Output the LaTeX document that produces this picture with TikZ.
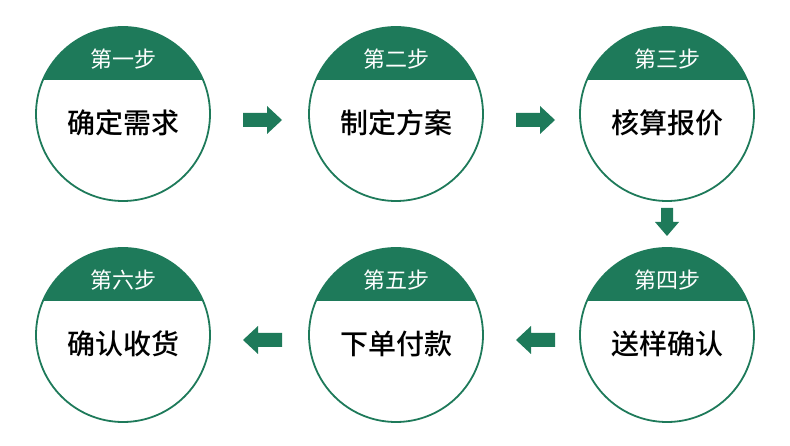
\documentclass[tikz,border=0pt]{standalone}
\usepackage{fontspec}
\newfontfamily\cjk{Noto Sans CJK SC}
\newfontfamily\cjkm{Noto Sans CJK SC Medium}
\definecolor{gr}{HTML}{1E7A5A}
\begin{document}
\begin{tikzpicture}[x=1pt,y=-1pt]
\useasboundingbox (0,0) rectangle (790,446);
\tikzset{ttl/.style={text=white,font=\cjk\fontsize{22}{22}\selectfont},
 mtxt/.style={text=black,font=\cjkm\fontsize{28}{28}\selectfont}}
\newcommand\stepc[5]{%
 \begin{scope}
 \clip (#1,#2) circle (87);
 \fill[gr] (#1-90,#2-90) rectangle (#1+90,#2-34);
 \end{scope}
 \draw[gr,line width=1.8pt] (#1,#2) circle (87);
 \node[ttl] (t#5) at (#1,#2-55) {#3};
 \node[mtxt] (m#5) at (#1,#2+9) {#4};
}
\stepc{123}{114}{第一步}{确定需求}{1}
\stepc{396}{114}{第二步}{制定方案}{2}
\stepc{667}{114}{第三步}{核算报价}{3}
\stepc{667}{335}{第四步}{送样确认}{4}
\stepc{396}{335}{第五步}{下单付款}{5}
\stepc{123}{335}{第六步}{确认收货}{6}
\newcommand\rarr[2]{\fill[gr] (#1,#2-7)--(#1+24,#2-7)--(#1+24,#2-14)--(#1+39,#2)--(#1+24,#2+14)--(#1+24,#2+7)--(#1,#2+7)--cycle;}
\newcommand\larr[2]{\fill[gr] (#1,#2-7)--(#1-24,#2-7)--(#1-24,#2-14)--(#1-39,#2)--(#1-24,#2+14)--(#1-24,#2+7)--(#1,#2+7)--cycle;}
\rarr{243}{120}
\rarr{516}{120}
\larr{282}{340}
\larr{555}{340}
\fill[gr] (661,208)--(673,208)--(673,222)--(679,222)--(667,236)--(655,222)--(661,222)--cycle;
\end{tikzpicture}
\end{document}
